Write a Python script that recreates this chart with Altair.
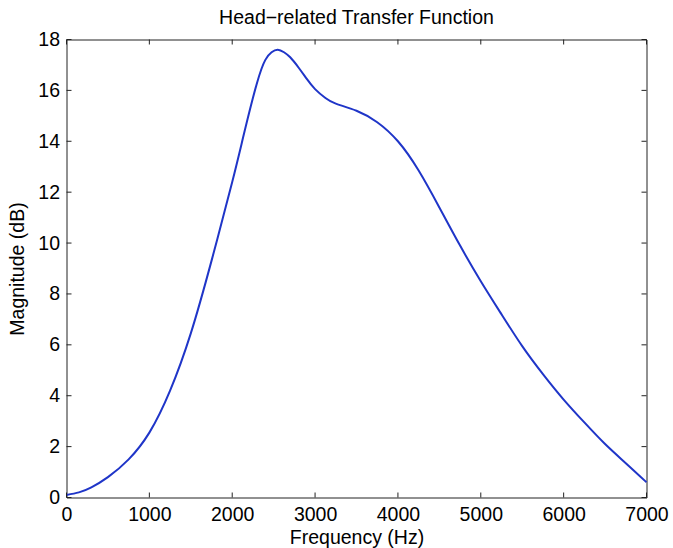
import altair as alt
import pandas as pd

# Magnitude response of the head-related transfer function
freq_hz = [0, 150, 300, 500, 750, 1000, 1250, 1500, 1750, 2000, 2150, 2300,
           2400, 2475, 2550, 2625, 2700, 2800, 2900, 3000, 3125, 3250, 3500,
           3750, 4000, 4250, 4500, 4750, 5000, 5250, 5500, 5750, 6000, 6250,
           6500, 6750, 7000]
magnitude_db = [0.1, 0.2, 0.4, 0.8, 1.5, 2.55, 4.2, 6.45, 9.3, 12.4, 14.4, 16.3,
                17.2, 17.5, 17.6, 17.5, 17.3, 16.9, 16.45, 16.05, 15.7, 15.48, 15.2,
                14.75, 14.0, 12.85, 11.4, 9.9, 8.5, 7.2, 5.95, 4.85, 3.85, 2.95,
                2.1, 1.35, 0.6]

x_ticks = [0, 1000, 2000, 3000, 4000, 5000, 6000, 7000]
y_ticks = [0, 2, 4, 6, 8, 10, 12, 14, 16, 18]

W, H = 580, 458
TICK = 5
FONT = "Liberation Sans"
FS = 19.5

curve = pd.DataFrame({"f": freq_hz, "m": magnitude_db})
xt = pd.DataFrame({"f": x_ticks})
yt = pd.DataFrame({"m": y_ticks})

xscale = alt.Scale(domain=[0, 7000], nice=False, zero=False)
yscale = alt.Scale(domain=[0, 18], nice=False, zero=False)

line = alt.Chart(curve).mark_line(
    color="#1f35c8", strokeWidth=2, interpolate="natural"
).encode(
    x=alt.X("f:Q", scale=xscale,
            axis=alt.Axis(values=x_ticks, title="Frequency (Hz)", grid=False,
                          ticks=False, domain=False, labelPadding=8,
                          labelFlush=False, titlePadding=4, format="d")),
    y=alt.Y("m:Q", scale=yscale,
            axis=alt.Axis(values=y_ticks, title="Magnitude (dB)", grid=False,
                          ticks=False, domain=False, labelPadding=7,
                          labelFlush=False, titlePadding=10, format="d")),
)

# inward tick marks on all four sides of the frame
rule = dict(color="#222", strokeWidth=1)
bottom = alt.Chart(xt).mark_rule(**rule).encode(
    x=alt.X("f:Q", scale=xscale),
    y=alt.value(H), y2=alt.value(H - TICK))
top = alt.Chart(xt).mark_rule(**rule).encode(
    x=alt.X("f:Q", scale=xscale),
    y=alt.value(0), y2=alt.value(TICK))
left = alt.Chart(yt).mark_rule(**rule).encode(
    y=alt.Y("m:Q", scale=yscale),
    x=alt.value(0), x2=alt.value(TICK))
right = alt.Chart(yt).mark_rule(**rule).encode(
    y=alt.Y("m:Q", scale=yscale),
    x=alt.value(W), x2=alt.value(W - TICK))

chart = alt.layer(line, bottom, top, left, right).properties(
    width=W, height=H,
    title=alt.TitleParams("Head\u2212related Transfer Function", fontSize=FS,
                          font=FONT, fontWeight="normal", color="#000",
                          offset=1, anchor="middle"),
    autosize=alt.AutoSizeParams(type="none"),
    padding={"left": 66.5, "top": 39.5, "right": 26.5, "bottom": 50},
    background="white",
).configure_view(
    stroke="#222", strokeWidth=1
).configure_axis(
    labelFont=FONT, titleFont=FONT, labelFontSize=FS, titleFontSize=FS,
    labelColor="#000", titleColor="#000", titleFontWeight="normal",
)

chart.save("out.html", embed_options={"renderer": "svg", "actions": False})
